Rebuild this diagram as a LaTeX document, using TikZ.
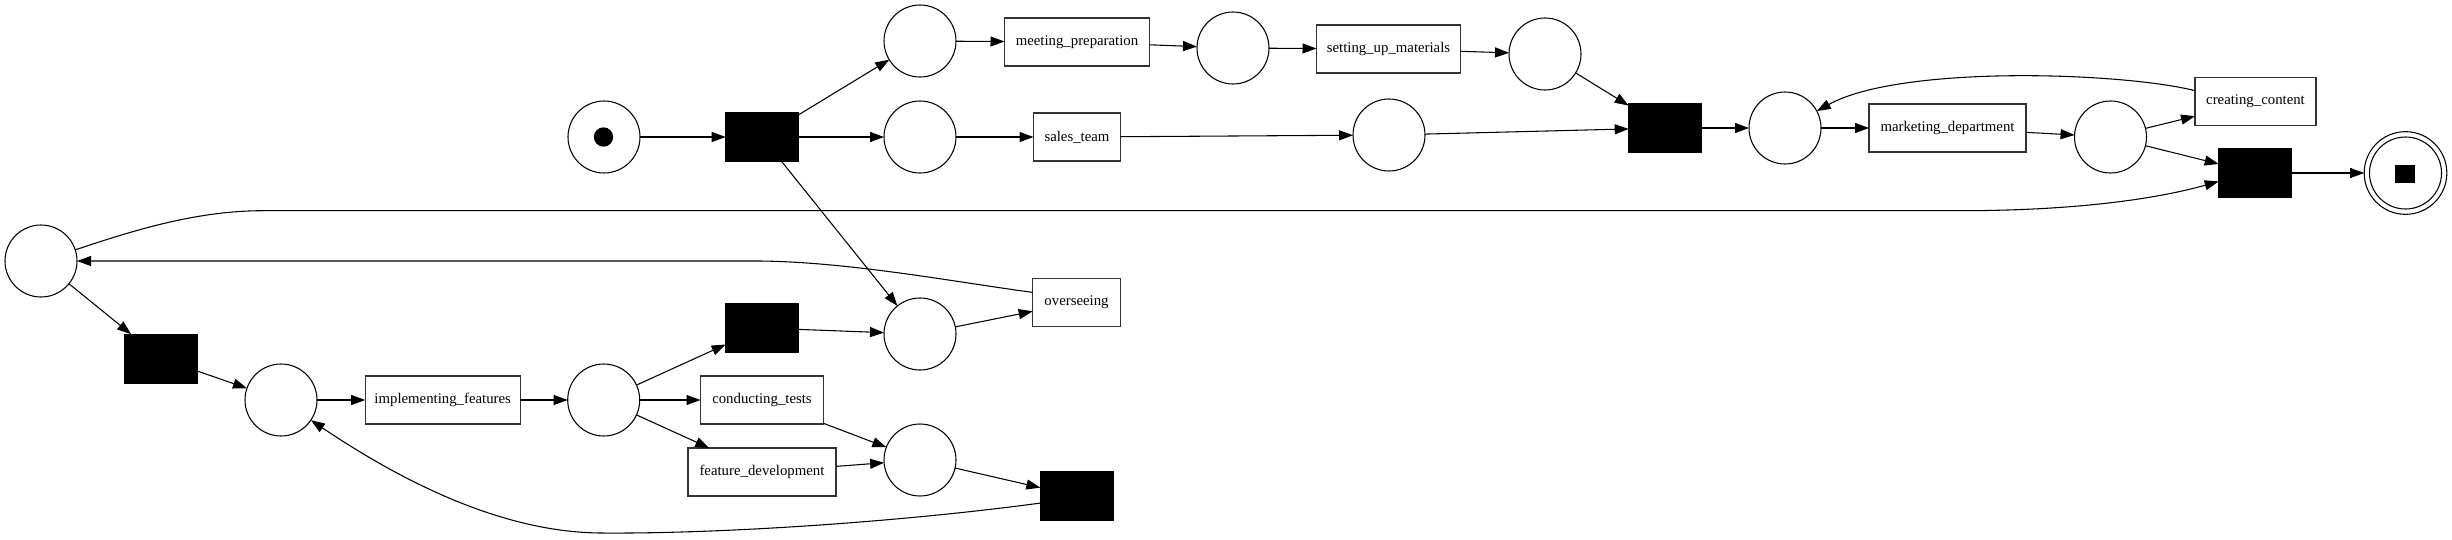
\documentclass[tikz,border=0pt]{standalone}
\usepackage{fontspec}
\setmainfont{Liberation Serif}
\usetikzlibrary{arrows.meta}
\begin{document}
\begin{tikzpicture}[x=0.75pt,y=-0.75pt,
  every node/.style={inner sep=0pt,outer sep=0pt},
  place/.style={circle,draw=black,line width=0.8pt,minimum size=54pt},
  trans/.style={rectangle,fill=black,draw=black,line width=0.4pt,minimum width=54.5pt,minimum height=36.5pt},
  act/.style={rectangle,draw=black!80,line width=1pt,minimum height=36pt,font=\fontsize{11.1}{13}\selectfont},
  arc/.style={line width=0.8pt,-{Triangle[length=10.5pt,width=7.5pt]}}]
\useasboundingbox (0,0) rectangle (2452,539);
% places and transitions
\node[place] (ps) at (604,137) {};
\node[circle,fill=black,minimum size=14.5pt] (tok) at (603.5,137) {};
\node[trans] (t1) at (762,137) {};
\node[place] (p1) at (920,41) {};
\node[place] (p2) at (920,137) {};
\node[act,minimum width=108.75pt] (mp) at (1077,42) {meeting\_preparation};
\node[place] (pmp) at (1233,48) {};
\node[act,minimum width=108pt] (sum) at (1388.5,49) {setting\_up\_materials};
\node[place] (pas) at (1545,54) {};
\node[act,minimum width=65.25pt] (st) at (1077,137) {sales\_team};
\node[place] (pso) at (1389,135) {};
\node[trans] (tj) at (1665,128) {};
\node[place] (pmi) at (1785,128) {};
\node[act,minimum width=117.75pt] (md) at (1947.5,128) {marketing\_department};
\node[place] (pmo) at (2110.5,137) {};
\node[act,minimum width=90.75pt] (cc) at (2255.5,101.3) {creating\_content};
\node[trans] (tf) at (2255,173) {};
\node[circle,draw=black,line width=0.8pt,minimum size=62pt] (pe) at (2405.5,173) {};
\node[place] (pein) at (2405.5,173) {};
\node[rectangle,fill=black,minimum width=14.5pt,minimum height=14pt] (sq) at (2405,174) {};
\node[place] (pl) at (41,261) {};
\node[trans] (tl) at (161,358.5) {};
\node[place] (pii) at (281,400) {};
\node[act,minimum width=116.25pt] (impl) at (442.7,400) {implementing\_features};
\node[place] (pai) at (603.7,400) {};
\node[trans] (tm) at (762,328) {};
\node[act,minimum width=92.25pt] (ct) at (762,400) {conducting\_tests};
\node[act,minimum width=111pt] (fd) at (762,472) {feature\_development};
\node[place] (po) at (920,334) {};
\node[act,minimum width=65.7pt] (ov) at (1076.5,302.5) {overseeing};
\node[place] (pj) at (920,460) {};
\node[trans] (tb) at (1076.7,496) {};
% straight arcs
\draw[arc] (ps) -- (t1);
\draw[arc] (t1) -- (p1);
\draw[arc] (t1) -- (p2);
\draw[arc] (t1) -- (po);
\draw[arc] (p1) -- (mp);
\draw[arc] (mp) -- (pmp);
\draw[arc] (pmp) -- (sum);
\draw[arc] (sum) -- (pas);
\draw[arc] (pas) -- (tj);
\draw[arc] (p2) -- (st);
\draw[arc] (st) -- (pso);
\draw[arc] (pso) -- (tj);
\draw[arc] (tj) -- (pmi);
\draw[arc] (pmi) -- (md);
\draw[arc] (md) -- (pmo);
\draw[arc] (pmo) -- (cc);
\draw[arc] (pmo) -- (tf);
\draw[arc] (tf) -- (pe);
\draw[arc] (pl) -- (tl);
\draw[arc] (tl) -- (pii);
\draw[arc] (pii) -- (impl);
\draw[arc] (impl) -- (pai);
\draw[arc] (pai) -- (tm);
\draw[arc] (pai) -- (ct);
\draw[arc] (pai) -- (fd);
\draw[arc] (tm) -- (po);
\draw[arc] (po) -- (ov);
\draw[arc] (ct) -- (pj);
\draw[arc] (fd) -- (pj);
\draw[arc] (pj) -- (tb);
% curved arcs
\draw[arc] (cc.170) .. controls (2120,72) and (1900,65) .. (pmi.28);
\draw[arc] (pl.18) .. controls (140,228) and (200,210.7) .. (263,210.7) -- (1960,210.7) .. controls (2080,210.7) and (2160,198) .. (tf.193);
\draw[arc] (ov.167) .. controls (955,282) and (850,262) .. (760,261) -- (pl.east);
\draw[arc] (tb.191) .. controls (900,522) and (720,534) .. (600,533) .. controls (500,532) and (400,480) .. (pii.-34);
\end{tikzpicture}
\end{document}
